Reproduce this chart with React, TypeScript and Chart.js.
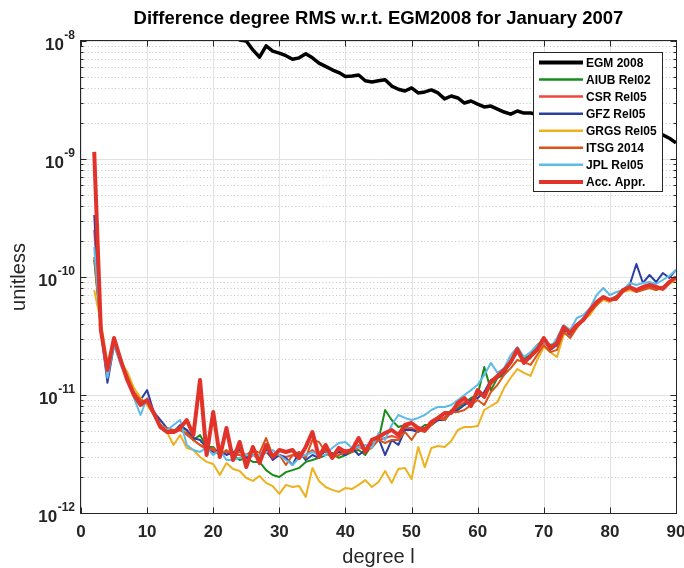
import React, { useEffect, useRef } from "react";
import { Chart, registerables } from "chart.js";

Chart.register(...registerables);

// ---------------- data ----------------
const degrees: number[] = Array.from({ length: 89 }, (_, i) => i + 2); // degree l = 2..90

const egm2008: (number | null)[] = [
  null, null, null, null, null, null, null, null, null, null,
  null, null, null, null, null, null, null, null,
  1.6e-8, 1.45e-8, 1.3e-8, 1.15e-8, 1.02e-8, 1.0e-8, 8.4e-9, 7.3e-9, 9.1e-9, 8.2e-9,
  7.9e-9, 7.5e-9, 7.0e-9, 7.2e-9, 7.8e-9, 7.2e-9, 6.5e-9, 6.1e-9, 5.7e-9, 5.4e-9,
  5.0e-9, 5.05e-9, 5.15e-9, 4.6e-9, 4.5e-9, 4.6e-9, 4.7e-9, 4.15e-9, 3.9e-9, 3.77e-9,
  4.0e-9, 3.63e-9, 3.7e-9, 3.85e-9, 3.63e-9, 3.23e-9, 3.42e-9, 3.29e-9, 2.98e-9, 3.1e-9,
  2.92e-9, 2.76e-9, 2.81e-9, 2.65e-9, 2.5e-9, 2.4e-9, 2.55e-9, 2.45e-9, 2.45e-9, 2.38e-9,
  2.3e-9, 2.33e-9, 2.2e-9, 2.15e-9, 2.18e-9, 2.05e-9, 2.0e-9, 2.02e-9, 1.92e-9, 1.88e-9,
  1.9e-9, 1.82e-9, 1.78e-9, 1.8e-9, 1.72e-9, 1.7e-9, 1.68e-9, 1.64e-9, 1.6e-9, 1.5e-9, 1.37e-9,
];

const aiubRel02: number[] = [
  1.40e-10, 3.70e-11, 1.57e-11, 2.76e-11, 1.90e-11, 1.45e-11, 1.06e-11, 8.72e-12, 9.07e-12, 7.18e-12,
  5.57e-12, 5.05e-12, 4.86e-12, 5.25e-12, 5.05e-12, 4.16e-12, 4.58e-12, 3.63e-12, 3.63e-12, 3.10e-12,
  3.29e-12, 3.10e-12, 2.81e-12, 2.93e-12, 2.71e-12, 2.71e-12, 2.31e-12, 2.10e-12, 2.02e-12, 2.22e-12,
  2.31e-12, 2.41e-12, 2.71e-12, 2.81e-12, 2.93e-12, 3.10e-12, 3.23e-12, 2.93e-12, 3.10e-12, 3.29e-12,
  3.42e-12, 3.10e-12, 3.77e-12, 4.16e-12, 7.46e-12, 6.14e-12, 5.36e-12, 5.57e-12, 5.05e-12, 5.05e-12,
  5.57e-12, 5.57e-12, 6.14e-12, 6.39e-12, 7.46e-12, 7.76e-12, 8.56e-12, 9.43e-12, 1.0e-11, 1.73e-11,
  1.10e-11, 1.40e-11, 1.48e-11, 1.98e-11, 2.41e-11, 2.06e-11, 2.18e-11, 2.65e-11, 2.93e-11, 2.65e-11,
  2.81e-11, 3.56e-11, 3.42e-11, 3.92e-11, 4.32e-11, 5.25e-11, 6.02e-11, 6.64e-11, 6.39e-11, 6.90e-11,
  7.76e-11, 8.07e-11, 7.76e-11, 8.23e-11, 8.39e-11, 8.23e-11, 8.23e-11, 9.07e-11, 1.0e-10,
];

const csrRel05: number[] = [
  2.5e-10, 3.56e-11, 1.57e-11, 2.93e-11, 1.90e-11, 1.40e-11, 1.0e-11, 8.56e-12, 8.72e-12, 7.04e-12,
  5.25e-12, 5.05e-12, 4.76e-12, 5.05e-12, 4.58e-12, 4.16e-12, 3.77e-12, 3.42e-12, 3.56e-12, 3.10e-12,
  3.29e-12, 3.10e-12, 3.10e-12, 2.93e-12, 3.10e-12, 2.93e-12, 3.29e-12, 2.93e-12, 3.10e-12, 2.98e-12,
  3.10e-12, 2.93e-12, 3.10e-12, 3.42e-12, 3.10e-12, 3.42e-12, 3.10e-12, 3.29e-12, 3.42e-12, 3.29e-12,
  3.63e-12, 3.42e-12, 3.77e-12, 4.16e-12, 4.32e-12, 4.49e-12, 4.32e-12, 5.25e-12, 5.25e-12, 5.05e-12,
  5.25e-12, 5.79e-12, 6.14e-12, 6.51e-12, 7.18e-12, 8.07e-12, 8.72e-12, 8.72e-12, 1.02e-11, 1.0e-11,
  1.24e-11, 1.40e-11, 1.57e-11, 1.87e-11, 2.31e-11, 1.90e-11, 2.10e-11, 2.41e-11, 2.81e-11, 2.50e-11,
  2.65e-11, 3.56e-11, 3.29e-11, 3.84e-11, 4.32e-11, 5.15e-11, 6.02e-11, 6.64e-11, 6.39e-11, 6.64e-11,
  7.61e-11, 8.07e-11, 7.76e-11, 8.07e-11, 8.39e-11, 8.07e-11, 8.07e-11, 9.07e-11, 1.0e-10,
];

const gfzRel05: number[] = [
  3.35e-10, 3.56e-11, 1.27e-11, 2.65e-11, 1.90e-11, 1.40e-11, 1.0e-11, 9.07e-12, 1.10e-11, 7.18e-12,
  6.14e-12, 5.25e-12, 4.86e-12, 5.57e-12, 5.05e-12, 4.32e-12, 4.16e-12, 3.56e-12, 3.29e-12, 3.42e-12,
  3.10e-12, 3.29e-12, 3.42e-12, 2.93e-12, 3.10e-12, 3.10e-12, 3.42e-12, 2.81e-12, 3.10e-12, 2.93e-12,
  2.55e-12, 3.29e-12, 2.81e-12, 3.10e-12, 2.93e-12, 3.42e-12, 3.10e-12, 3.29e-12, 3.10e-12, 3.56e-12,
  3.10e-12, 3.42e-12, 4.16e-12, 4.32e-12, 3.10e-12, 4.16e-12, 3.77e-12, 5.05e-12, 5.05e-12, 4.86e-12,
  5.25e-12, 5.57e-12, 6.14e-12, 6.14e-12, 7.18e-12, 7.46e-12, 8.23e-12, 9.07e-12, 9.43e-12, 1.06e-11,
  1.34e-11, 1.40e-11, 1.57e-11, 1.90e-11, 2.31e-11, 1.98e-11, 2.06e-11, 2.50e-11, 2.93e-11, 2.41e-11,
  2.65e-11, 3.56e-11, 3.23e-11, 3.92e-11, 4.49e-11, 5.05e-11, 6.02e-11, 6.64e-11, 6.39e-11, 6.77e-11,
  7.76e-11, 8.56e-11, 1.29e-10, 8.90e-11, 1.04e-10, 9.07e-11, 1.08e-10, 9.81e-11, 1.15e-10,
];

const grgsRel05: number[] = [
  7.76e-11, 4.16e-11, 1.87e-11, 2.81e-11, 1.90e-11, 1.57e-11, 1.15e-11, 9.43e-12, 8.23e-12, 6.77e-12,
  5.36e-12, 4.86e-12, 3.77e-12, 4.58e-12, 3.56e-12, 3.42e-12, 2.98e-12, 2.71e-12, 2.60e-12, 2.10e-12,
  2.65e-12, 2.36e-12, 2.27e-12, 1.98e-12, 1.87e-12, 2.06e-12, 1.80e-12, 1.69e-12, 1.45e-12, 1.73e-12,
  1.66e-12, 1.69e-12, 1.37e-12, 2.41e-12, 1.87e-12, 1.66e-12, 1.57e-12, 1.51e-12, 1.63e-12, 1.60e-12,
  1.73e-12, 1.90e-12, 1.66e-12, 1.83e-12, 2.27e-12, 1.80e-12, 2.36e-12, 2.41e-12, 1.94e-12, 3.63e-12,
  2.45e-12, 3.56e-12, 3.70e-12, 3.63e-12, 4.08e-12, 5.05e-12, 5.36e-12, 5.36e-12, 5.46e-12, 7.46e-12,
  8.07e-12, 8.72e-12, 1.15e-11, 1.40e-11, 1.66e-11, 1.54e-11, 1.45e-11, 1.98e-11, 2.55e-11, 2.31e-11,
  2.10e-11, 3.23e-11, 3.56e-11, 3.92e-11, 4.32e-11, 4.76e-11, 5.79e-11, 6.39e-11, 6.14e-11, 6.77e-11,
  7.46e-11, 7.76e-11, 7.46e-11, 8.07e-11, 8.07e-11, 7.76e-11, 8.23e-11, 8.72e-11, 9.43e-11,
];

const itsg2014: number[] = [
  1.48e-10, 3.70e-11, 1.48e-11, 2.93e-11, 1.98e-11, 1.45e-11, 1.06e-11, 9.07e-12, 8.72e-12, 7.18e-12,
  5.57e-12, 5.25e-12, 5.05e-12, 5.05e-12, 4.76e-12, 4.16e-12, 3.77e-12, 3.56e-12, 3.42e-12, 3.10e-12,
  3.42e-12, 3.10e-12, 3.29e-12, 3.10e-12, 3.42e-12, 3.23e-12, 4.32e-12, 3.10e-12, 3.10e-12, 2.55e-12,
  3.10e-12, 3.29e-12, 2.93e-12, 4.16e-12, 4.00e-12, 3.29e-12, 2.93e-12, 3.10e-12, 3.29e-12, 3.42e-12,
  3.77e-12, 3.42e-12, 3.56e-12, 4.16e-12, 3.92e-12, 4.16e-12, 4.16e-12, 4.86e-12, 4.16e-12, 5.05e-12,
  4.86e-12, 5.57e-12, 6.39e-12, 6.14e-12, 7.18e-12, 7.18e-12, 7.46e-12, 8.23e-12, 9.07e-12, 8.23e-12,
  1.06e-11, 1.22e-11, 1.48e-11, 1.69e-11, 1.98e-11, 1.90e-11, 1.80e-11, 2.18e-11, 2.65e-11, 2.31e-11,
  2.41e-11, 3.42e-11, 3.04e-11, 3.70e-11, 4.32e-11, 5.05e-11, 5.79e-11, 6.64e-11, 6.39e-11, 6.39e-11,
  7.46e-11, 8.07e-11, 7.46e-11, 7.76e-11, 8.07e-11, 7.76e-11, 8.23e-11, 9.07e-11, 9.81e-11,
];

const jplRel05: number[] = [
  1.80e-10, 3.56e-11, 1.40e-11, 2.65e-11, 1.80e-11, 1.34e-11, 9.43e-12, 6.77e-12, 9.43e-12, 6.77e-12,
  5.57e-12, 5.05e-12, 5.57e-12, 6.14e-12, 3.77e-12, 3.42e-12, 3.29e-12, 3.56e-12, 3.10e-12, 3.42e-12,
  2.81e-12, 2.81e-12, 2.93e-12, 3.10e-12, 3.10e-12, 3.10e-12, 3.29e-12, 3.42e-12, 3.10e-12, 2.81e-12,
  2.55e-12, 2.93e-12, 3.10e-12, 3.29e-12, 3.10e-12, 3.10e-12, 3.56e-12, 3.92e-12, 4.00e-12, 3.56e-12,
  3.63e-12, 3.77e-12, 3.56e-12, 4.76e-12, 4.16e-12, 5.57e-12, 6.77e-12, 6.39e-12, 6.14e-12, 6.39e-12,
  6.77e-12, 7.46e-12, 7.92e-12, 7.92e-12, 8.23e-12, 9.07e-12, 1.0e-11, 1.10e-11, 1.22e-11, 1.48e-11,
  1.87e-11, 1.54e-11, 1.69e-11, 2.18e-11, 2.55e-11, 2.10e-11, 2.31e-11, 2.65e-11, 2.81e-11, 2.50e-11,
  3.04e-11, 3.92e-11, 3.56e-11, 4.49e-11, 4.76e-11, 5.46e-11, 7.04e-11, 8.07e-11, 7.04e-11, 7.46e-11,
  7.76e-11, 8.90e-11, 8.56e-11, 8.90e-11, 9.07e-11, 8.72e-11, 9.43e-11, 1.02e-10, 1.15e-10,
];

const accAppr: number[] = [
  1.15e-9, 3.56e-11, 1.63e-11, 3.04e-11, 1.98e-11, 1.34e-11, 1.0e-11, 8.23e-12, 9.07e-12, 7.04e-12,
  5.36e-12, 4.86e-12, 4.86e-12, 5.25e-12, 6.14e-12, 4.58e-12, 1.34e-11, 3.10e-12, 7.18e-12, 2.98e-12,
  5.25e-12, 2.81e-12, 4.00e-12, 2.45e-12, 3.63e-12, 2.65e-12, 3.77e-12, 2.98e-12, 3.42e-12, 3.29e-12,
  3.42e-12, 2.93e-12, 3.63e-12, 4.86e-12, 2.98e-12, 3.77e-12, 2.93e-12, 3.56e-12, 3.29e-12, 3.42e-12,
  4.32e-12, 3.29e-12, 4.16e-12, 4.41e-12, 4.76e-12, 5.05e-12, 4.58e-12, 5.57e-12, 5.79e-12, 5.25e-12,
  5.05e-12, 5.91e-12, 6.39e-12, 7.04e-12, 7.04e-12, 8.56e-12, 9.43e-12, 8.07e-12, 1.10e-11, 9.62e-12,
  1.29e-11, 1.45e-11, 1.63e-11, 1.90e-11, 2.45e-11, 1.87e-11, 2.14e-11, 2.41e-11, 3.04e-11, 2.50e-11,
  2.76e-11, 3.77e-11, 3.35e-11, 3.92e-11, 4.32e-11, 5.25e-11, 6.14e-11, 6.77e-11, 6.39e-11, 6.64e-11,
  7.76e-11, 8.23e-11, 7.76e-11, 8.23e-11, 8.56e-11, 8.23e-11, 7.92e-11, 9.07e-11, 1.0e-10,
];

const xTickValues: number[] = [0, 10, 20, 30, 40, 50, 60, 70, 80, 90];
const yTickValues: number[] = [1e-12, 1e-11, 1e-10, 1e-9, 1e-8];
const yTickExponents: string[] = ["-12", "-11", "-10", "-9", "-8"];
const yMinorMantissas: number[] = [2, 3, 4, 5, 6, 7, 8, 9];

const titleText = "Difference degree RMS w.r.t. EGM2008 for January 2007";
const xTitle = "degree l";
const yTitle = "unitless";

// ---------------- styles ----------------
const FONT = '"Liberation Sans", Arial, Helvetica, sans-serif';

type SeriesDef = { label: string; data: (number | null)[]; color: string; width: number; legendWidth: number; order: number };

const series: SeriesDef[] = [
  { label: "EGM 2008", data: egm2008, color: "#000000", width: 3.5, legendWidth: 4, order: 7 },
  { label: "AIUB Rel02", data: aiubRel02, color: "#1a8c1a", width: 2, legendWidth: 2.5, order: 6 },
  { label: "CSR Rel05", data: csrRel05, color: "#f0463c", width: 2, legendWidth: 2.5, order: 5 },
  { label: "GFZ Rel05", data: gfzRel05, color: "#2b3fa3", width: 2, legendWidth: 2.5, order: 4 },
  { label: "GRGS Rel05", data: grgsRel05, color: "#edb120", width: 2, legendWidth: 2.5, order: 3 },
  { label: "ITSG 2014", data: itsg2014, color: "#d95319", width: 2, legendWidth: 2.5, order: 2 },
  { label: "JPL Rel05", data: jplRel05, color: "#5dbbea", width: 2, legendWidth: 2.5, order: 1 },
  { label: "Acc. Appr.", data: accAppr, color: "#e2332a", width: 4, legendWidth: 4, order: 0 },
];

const decorPlugin = {
  id: "matlabDecor",
  beforeDatasetsDraw(chart: any) {
    const { ctx, chartArea: a, scales } = chart;
    const xs = scales.x;
    const ys = scales.y;
    ctx.save();
    // minor dotted horizontal grid
    ctx.lineWidth = 1;
    ctx.strokeStyle = "#c4c4c4";
    ctx.setLineDash([1, 2.4]);
    for (let i = 0; i < yTickValues.length - 1; i++) {
      for (const m of yMinorMantissas) {
        const py = Math.round(ys.getPixelForValue(m * yTickValues[i])) + 0.5;
        ctx.beginPath();
        ctx.moveTo(a.left, py);
        ctx.lineTo(a.right, py);
        ctx.stroke();
      }
    }
    ctx.setLineDash([]);
    ctx.strokeStyle = "#e2e2e2";
    for (const t of xTickValues) {
      const px = Math.round(xs.getPixelForValue(t)) + 0.5;
      ctx.beginPath();
      ctx.moveTo(px, a.top);
      ctx.lineTo(px, a.bottom);
      ctx.stroke();
    }
    for (const v of yTickValues) {
      const py = Math.round(ys.getPixelForValue(v)) + 0.5;
      ctx.beginPath();
      ctx.moveTo(a.left, py);
      ctx.lineTo(a.right, py);
      ctx.stroke();
    }
    ctx.restore();
  },
  afterDatasetsDraw(chart: any) {
    const { ctx, chartArea: a, scales } = chart;
    const xs = scales.x;
    const ys = scales.y;
    ctx.save();
    const axisColor = "#262626";
    ctx.strokeStyle = axisColor;
    ctx.lineWidth = 1;
    const L = a.left - 0.5, R = a.right + 0.5, T = a.top - 0.5, B = a.bottom + 0.5;
    ctx.strokeRect(L, T, R - L, B - T);
    // x ticks (bottom & top)
    for (const t of xTickValues) {
      const px = Math.round(xs.getPixelForValue(t)) + 0.5;
      ctx.beginPath();
      ctx.moveTo(px, B); ctx.lineTo(px, B - 6);
      ctx.moveTo(px, T); ctx.lineTo(px, T + 6);
      ctx.stroke();
    }
    // y ticks major & minor (left & right)
    for (let i = 0; i < yTickValues.length; i++) {
      const py = Math.round(ys.getPixelForValue(yTickValues[i])) + 0.5;
      ctx.beginPath();
      ctx.moveTo(L, py); ctx.lineTo(L + 6, py);
      ctx.moveTo(R, py); ctx.lineTo(R - 6, py);
      ctx.stroke();
      if (i < yTickValues.length - 1) {
        for (const m of yMinorMantissas) {
          const pm = Math.round(ys.getPixelForValue(m * yTickValues[i])) + 0.5;
          ctx.beginPath();
          ctx.moveTo(L, pm); ctx.lineTo(L + 3, pm);
          ctx.moveTo(R, pm); ctx.lineTo(R - 3, pm);
          ctx.stroke();
        }
      }
    }
    // tick labels
    ctx.fillStyle = axisColor;
    ctx.font = `bold 17px ${FONT}`;
    ctx.textAlign = "center";
    ctx.textBaseline = "alphabetic";
    for (const t of xTickValues) {
      ctx.fillText(String(t), xs.getPixelForValue(t), a.bottom + 24);
    }
    ctx.textAlign = "left";
    for (let i = 0; i < yTickValues.length; i++) {
      const py = ys.getPixelForValue(yTickValues[i]);
      ctx.font = `bold 12px ${FONT}`;
      const supW = ctx.measureText(yTickExponents[i]).width;
      ctx.font = `bold 17px ${FONT}`;
      const baseW = ctx.measureText("10").width;
      const right = a.left - 6;
      const xSup = right - supW;
      const xBase = xSup - baseW - 0.5;
      ctx.fillText("10", xBase, py + 9);
      ctx.font = `bold 12px ${FONT}`;
      ctx.fillText(yTickExponents[i], xSup, py - 2);
    }
    // axis titles
    ctx.font = `20px ${FONT}`;
    ctx.textAlign = "center";
    ctx.fillText(xTitle, (a.left + a.right) / 2, a.bottom + 50);
    ctx.save();
    ctx.translate(25, (a.top + a.bottom) / 2);
    ctx.rotate(-Math.PI / 2);
    ctx.fillText(yTitle, 0, 0);
    ctx.restore();
    // title
    ctx.fillStyle = "#000000";
    ctx.font = `bold 18.5px ${FONT}`;
    ctx.fillText(titleText, (a.left + a.right) / 2, 24);
    // legend
    const lx = 533, ly = 52, lw = 129, lh = 139;
    ctx.fillStyle = "#ffffff";
    ctx.fillRect(lx, ly, lw, lh);
    ctx.strokeStyle = axisColor;
    ctx.lineWidth = 1;
    ctx.strokeRect(lx + 0.5, ly + 0.5, lw, lh);
    ctx.font = `bold 12px ${FONT}`;
    ctx.textAlign = "left";
    ctx.textBaseline = "middle";
    series.forEach((s, i) => {
      const cy = ly + 10.5 + i * 17.06;
      ctx.strokeStyle = s.color;
      ctx.lineWidth = s.legendWidth;
      ctx.beginPath();
      ctx.moveTo(lx + 6, cy);
      ctx.lineTo(lx + 50, cy);
      ctx.stroke();
      ctx.fillStyle = "#000000";
      ctx.fillText(s.label, lx + 53, cy + 1);
    });
    ctx.restore();
  },
};

export default function App() {
  const ref = useRef<HTMLCanvasElement>(null);
  useEffect(() => {
    document.body.style.margin = "0";
    const canvas = ref.current;
    if (!canvas) return;
    const chart = new Chart(canvas, {
      type: "line",
      data: {
        datasets: series.map((s) => ({
          label: s.label,
          data: degrees.map((d, i) => ({ x: d, y: s.data[i] })) as any,
          borderColor: s.color,
          backgroundColor: s.color,
          borderWidth: s.width,
          pointRadius: 0,
          tension: 0,
          fill: false,
          spanGaps: false,
          borderJoinStyle: "round" as const,
          order: s.order,
          clip: 0 as any,
        })),
      },
      options: {
        responsive: false,
        animation: false,
        devicePixelRatio: 1,
        events: [],
        layout: { padding: { left: 81, right: 8, top: 41, bottom: 55 } },
        plugins: { legend: { display: false }, tooltip: { enabled: false }, title: { display: false } },
        scales: {
          x: { type: "linear", min: 0, max: 90, display: false },
          y: { type: "logarithmic", min: 1e-12, max: 1e-8, display: false },
        },
      },
      plugins: [decorPlugin],
    });
    return () => chart.destroy();
  }, []);
  return (
    <div style={{ width: 684, height: 568 }}>
      <canvas ref={ref} width={684} height={568} style={{ display: "block" }} />
    </div>
  );
}
